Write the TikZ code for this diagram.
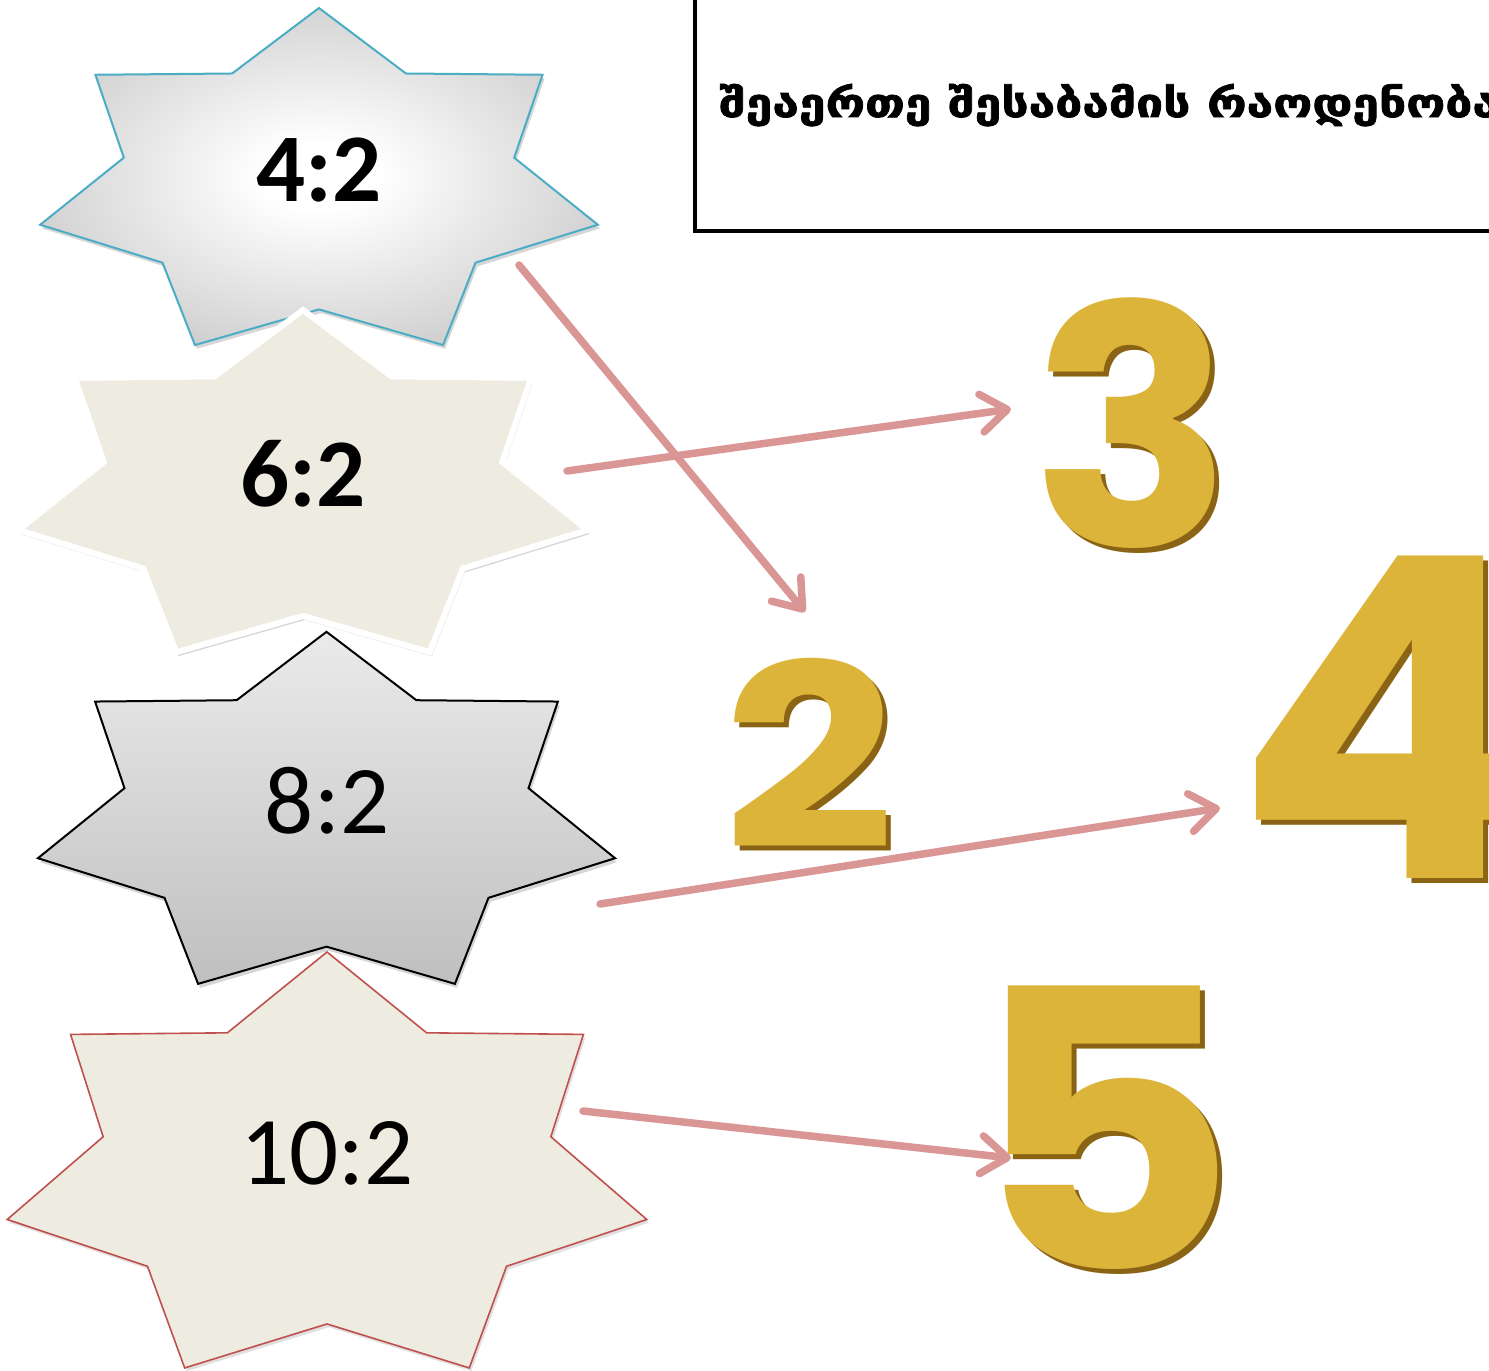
\documentclass[tikz,border=0pt]{standalone}
\usepackage{fontspec}
\setmainfont{Carlito}
\newfontfamily\geofont{DejaVu Sans}[BoldFeatures={FakeBold=1.6}]
\newfontfamily\goldfont{Poppins}
\usetikzlibrary{arrows.meta}
\definecolor{starblue}{HTML}{4BACC6}
\definecolor{beige}{HTML}{EEECE1}
\definecolor{starred}{HTML}{C0504D}
\definecolor{arrowpink}{HTML}{D99694}
\definecolor{gold}{HTML}{DDB43A}
\definecolor{golddark}{HTML}{8A6414}
\definecolor{grayA}{HTML}{D6D6D6}
\definecolor{grayB}{HTML}{B4B4B4}
\definecolor{grayC}{HTML}{9E9E9E}
\pgfdeclareradialshading{starrad}{\pgfpoint{0bp}{0bp}}{color(0bp)=(white); color(5bp)=(white); color(24bp)=(grayA); color(38bp)=(grayB); color(50bp)=(grayC); color(72bp)=(grayC)}
\newcommand\sevenstar[4]{%
  ({#1},{#2-#4})
  \foreach \k in {0,...,6}{
    -- ({#1+0.70*#3*cos(90+(\k+0.5)*360/7)},{#2-0.70*#4*sin(90+(\k+0.5)*360/7)})
    -- ({#1+#3*cos(90+(\k+1)*360/7)},{#2-#4*sin(90+(\k+1)*360/7)})
  } -- cycle}
\tikzset{
  starshadow/.style={fill=black, opacity=0.16},
  ratiolabel/.style={anchor=base, inner sep=0pt, font=\fontsize{97}{97}\selectfont},
  golddigit/.style={inner sep=0pt, text=gold},
  goldshadow/.style={inner sep=0pt, text=golddark},
  matcharrow/.style={draw=arrowpink, line width=7.5pt, line cap=round, line join=round,
    -{Straight Barb[length=26pt,width=38pt,line cap=round,line join=round]}},
}
\begin{document}
\begin{tikzpicture}[x=1pt,y=-1pt]
\clip (0,0) rectangle (1489,1371);
\fill[white] (0,0) rectangle (1489,1371);

% title box
\draw[line width=4pt] (695,-10) rectangle (1520,231);
\node[anchor=base west, inner sep=0pt, font=\geofont\bfseries\fontsize{40}{40}\selectfont] (title) at (719,117) {\scalebox{1.2}[1]{შეაერთე შესაბამის რაოდენობა}};

% star 1
\path[starshadow] \sevenstar{321}{189}{286}{177.3};
\path[shading=starrad, draw=starblue, line width=2pt] \sevenstar{319}{185.3}{286}{177.3};
\node[ratiolabel, font=\bfseries\fontsize{97}{97}\selectfont] (s1) at (319,201) {4:2};

% star 2
\path[starshadow] \sevenstar{305}{494}{292}{180};
\path[fill=beige, draw=white, line width=6pt] \sevenstar{303}{490}{292}{180};
\node[ratiolabel, font=\bfseries\fontsize{97}{97}\selectfont] (s2) at (303,506) {6:2};

% star 3
\path[starshadow] \sevenstar{328.5}{821}{296}{185.2};
\path[top color=black!8, bottom color=black!25, draw=black, line width=2pt] \sevenstar{326.5}{817}{296}{185.2};
\node[ratiolabel] (s3) at (327,833) {8:2};

% star 4
\path[starshadow, opacity=0.12] \sevenstar{329}{1174}{328}{218.8};
\path[fill=beige, draw=starred, line width=1.6pt] \sevenstar{327}{1170.8}{328}{218.8};
\node[ratiolabel] (s4) at (327,1184) {10:2};

% gold digits
\node[goldshadow, font=\goldfont\bfseries\fontsize{333}{333}\selectfont] at (1137,428) {3};
\node[golddigit, font=\goldfont\bfseries\fontsize{333}{333}\selectfont] (g3) at (1132,423) {3};
\node[goldshadow, font=\goldfont\bfseries\fontsize{255}{255}\selectfont] at (814,758) {\scalebox{1.18}[1]{2}};
\node[golddigit, font=\goldfont\bfseries\fontsize{255}{255}\selectfont] (g2) at (809,753) {\scalebox{1.18}[1]{2}};
\node[goldshadow, font=\goldfont\bfseries\fontsize{448}{448}\selectfont] at (1391,722) {4};
\node[golddigit, font=\goldfont\bfseries\fontsize{448}{448}\selectfont] (g4) at (1386,717) {4};
\node[goldshadow, font=\goldfont\bfseries\fontsize{388}{388}\selectfont] at (1109,1133) {\scalebox{1.06}[1]{5}};
\node[golddigit, font=\goldfont\bfseries\fontsize{388}{388}\selectfont] (g5) at (1104,1128) {\scalebox{1.06}[1]{5}};

% arrow end points
\coordinate (a1s) at (519,265); \coordinate (a1e) at (805,612);
\coordinate (a2s) at (567,471); \coordinate (a2e) at (1011,409);
\coordinate (a3s) at (600,904); \coordinate (a3e) at (1220,808);
\coordinate (a4s) at (583,1111); \coordinate (a4e) at (1011,1158);

\draw[matcharrow] (a1s) -- (a1e);
\draw[matcharrow] (a2s) -- (a2e);
\draw[matcharrow] (a3s) -- (a3e);
\draw[matcharrow] (a4s) -- (a4e);
\end{tikzpicture}
\end{document}
